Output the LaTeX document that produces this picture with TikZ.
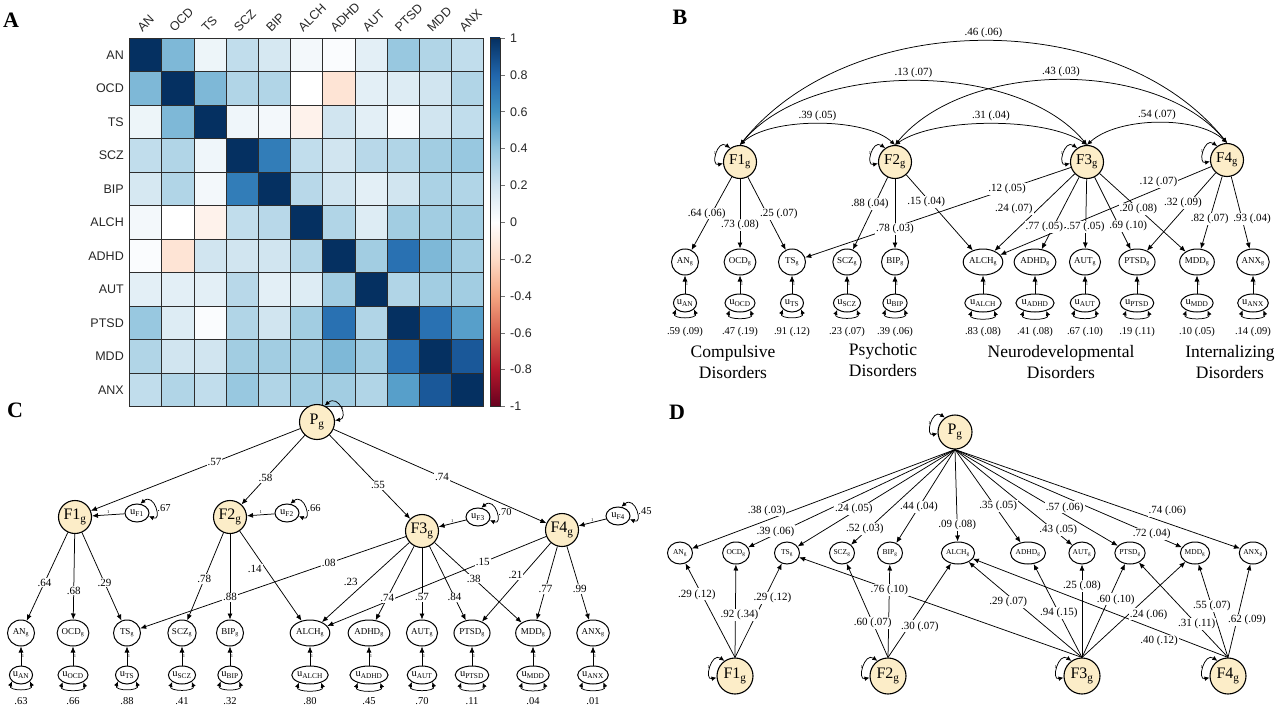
\documentclass[tikz,border=0pt]{standalone}
\usepackage{fontspec}
\setmainfont{Liberation Serif}
\newfontfamily\arialfont{Liberation Sans}
\usetikzlibrary{arrows.meta,shapes.geometric}

\definecolor{facfill}{RGB}{252,237,200}
\definecolor{gridcol}{RGB}{45,45,45}
\definecolor{pos0}{HTML}{FFFFFF}
\definecolor{pos1}{HTML}{D1E5F0}
\definecolor{pos2}{HTML}{92C5DE}
\definecolor{pos3}{HTML}{4393C3}
\definecolor{pos4}{HTML}{2166AC}
\definecolor{pos5}{HTML}{053061}
\definecolor{pos6}{HTML}{053061}
\definecolor{neg0}{HTML}{FFFFFF}
\definecolor{neg1}{HTML}{FDDBC7}
\definecolor{neg2}{HTML}{F4A582}
\definecolor{neg3}{HTML}{D6604D}
\definecolor{neg4}{HTML}{B2182B}
\definecolor{neg5}{HTML}{67001F}
\definecolor{neg6}{HTML}{67001F}

\pgfdeclareverticalshading{rdbu}{100bp}{color(0bp)=(neg5); color(25bp)=(neg5);
  color(30bp)=(neg4); color(35bp)=(neg3); color(40bp)=(neg2); color(45bp)=(neg1);
  color(50bp)=(pos0); color(55bp)=(pos1); color(60bp)=(pos2); color(65bp)=(pos3);
  color(70bp)=(pos4); color(75bp)=(pos5); color(100bp)=(pos5)}

\tikzset{
  fac/.style={circle, draw, line width=1.1pt, fill=facfill, minimum size=#1, inner sep=0pt},
  ind/.style={ellipse, draw, line width=1pt, minimum width=27, minimum height=26, inner sep=0pt, font=\fontsize{9}{9}\selectfont},
  indD/.style={ind, minimum width=25, minimum height=22, font=\fontsize{7.5}{8}\selectfont},
  res/.style={ellipse, draw, line width=1pt, minimum width=23, minimum height=18, inner sep=0pt, font=\fontsize{10.5}{10}\selectfont},
  lbl/.style={fill=white, inner sep=1pt, font=\fontsize{11}{12}\selectfont},
  arcl/.style={inner sep=1pt, font=\fontsize{11}{12}\selectfont},
  var/.style={inner sep=0pt, font=\fontsize{10.5}{12}\selectfont},
  one/.style={inner sep=0.5pt, font=\fontsize{4.5}{5}\selectfont},
  ld/.style={-{Latex[length=6pt,width=5pt]}, line width=0.75pt},
  cov/.style={{Latex[length=5pt,width=4.5pt]}-{Latex[length=5pt,width=4.5pt]}, line width=0.75pt},
  grp/.style={align=center, font=\fontsize{17.5}{21}\selectfont},
  panel/.style={font=\fontsize{22}{22}\selectfont\bfseries},
  hmlab/.style={inner sep=0pt, font=\arialfont\fontsize{12.5}{13}\selectfont, text=black!85},
}

% loadings: factor/indicator/label pos/x shift/y shift/label
\def\bload{1/AN/.5/-5/0/{.64 (.06)}, 1/OCD/.66/0/0/{.73 (.08)}, 1/TS/.5/12/0/{.25 (.07)},
  2/SCZ/.37/-5/0/{.88 (.04)}, 2/BIP/.72/0/0/{.78 (.03)}, 2/ALCH/.36/-4/0/{.15 (.04)},
  3/TS/.24/0/0/{.12 (.05)}, 3/ALCH/.46/-24/0/{.24 (.07)}, 3/ADHD/.69/-9/0/{.77 (.05)},
  3/AUT/.69/0/0/{.57 (.05)}, 3/PTSD/.68/9/0/{.69 (.10)}, 3/MDD/.45/0/0/{.20 (.08)},
  4/ALCH/.25/0/7/{.12 (.07)}, 4/PTSD/.39/-6/0/{.32 (.09)}, 4/MDD/.59/0/0/{.82 (.07)},
  4/ANX/.59/10/0/{.93 (.04)}}
\def\cload{1/AN/.57/0/0/.64, 1/OCD/.66/0/0/.68, 1/TS/.57/0/0/.29, 2/SCZ/.53/0/0/.78,
  2/BIP/.74/0/0/.88, 2/ALCH/.42/-11/0/.14, 3/TS/.29/0/0/.08, 3/ALCH/.5/-15/0/.23,
  3/ADHD/.7/0/0/.74, 3/AUT/.69/0/0/.57, 3/PTSD/.69/0/0/.84, 3/MDD/.45/0/0/.38,
  4/ALCH/.29/0/0/.15, 4/PTSD/.41/-7/0/.21, 4/MDD/.58/0/0/.77, 4/ANX/.58/0/0/.99}
\def\dpload{AN/.716/0/10/{.38 (.03)}, OCD/.868/0/3/{.39 (.06)}, TS/.643/0/3/{.24 (.05)},
  SCZ/.867/0/3/{.52 (.03)}, BIP/.615/0/0/{.44 (.04)}, ALCH/.82/0/0/{.09 (.08)},
  ADHD/.658/0/5/{.35 (.05)}, AUT/.88/0/4/{.43 (.05)}, PTSD/.674/0/7/{.57 (.06)},
  MDD/.867/0/0/{.72 (.04)}, ANX/.745/0/12/{.74 (.06)}}
\def\dfload{1/AN/.67/-5/0/{.29 (.12)}, 1/OCD/.46/4/0/{.92 (.34)}, 1/TS/.63/8/0/{.29 (.12)},
  2/SCZ/.37/0/0/{.60 (.07)}, 2/BIP/.73/0/0/{.76 (.10)}, 2/ALCH/.33/11/0/{.30 (.07)},
  3/ALCH/.58/-8/0/{.29 (.07)}, 3/ADHD/.48/0/0/{.94 (.15)}, 3/AUT/.77/0/0/{.25 (.08)},
  3/PTSD/.62/7/0/{.60 (.10)}, 3/MDD/.45/20/0/{.24 (.06)}, 4/ALCH/.27/0/-10/{.40 (.12)},
  4/PTSD/.35/0/0/{.31 (.11)}, 4/MDD/.55/0/0/{.55 (.07)}, 4/ANX/.4/10/0/{.62 (.09)}}

\begin{document}
\begin{tikzpicture}[x=1pt, y=-1pt]
\useasboundingbox (0,0) rectangle (1280,709);

% ---------- A: heatmap
\node[panel] (lA) at (11,20) {A};
\foreach \row [count=\ii from 0] in {
  {1,.45,.08,.25,.18,.05,.02,.12,.38,.30,.25},
  {.45,1,.45,.30,.30,0,-.15,.12,.15,.20,.30},
  {.08,.45,1,.07,.05,-.07,.20,.12,.02,.20,.25},
  {.25,.30,.07,1,.70,.25,.20,.28,.30,.35,.38},
  {.18,.30,.05,.70,1,.28,.20,.12,.20,.32,.30},
  {.05,0,-.07,.25,.28,1,.30,.15,.35,.35,.35},
  {.02,-.15,.20,.20,.20,.30,1,.35,.75,.45,.35},
  {.12,.12,.12,.28,.12,.15,.35,1,.30,.35,.35},
  {.38,.15,.02,.30,.20,.35,.75,.30,1,.75,.55},
  {.30,.20,.20,.35,.35,.35,.45,.35,.75,1,.85},
  {.25,.30,.25,.38,.30,.35,.35,.30,.55,.85,1}} {
  \foreach \vv [count=\jj from 0] in \row {
    \pgfmathsetmacro\av{abs(\vv)*5}
    \pgfmathtruncatemacro\sg{\av}
    \pgfmathtruncatemacro\nx{\sg+1}
    \pgfmathsetmacro\fr{(\av-\sg)*100}
    \ifdim\vv pt<0pt \def\pre{neg}\else\def\pre{pos}\fi
    \filldraw[fill=\pre\nx!\fr!\pre\sg, draw=gridcol, line width=0.8pt]
      (129.5+\jj*32.2, 38+\ii*33.5) rectangle ++(32.2,33.5);
  }
}
\foreach \nm [count=\ii from 0] in {AN,OCD,TS,SCZ,BIP,ALCH,ADHD,AUT,PTSD,MDD,ANX} {
  \node[hmlab, anchor=east] (row\nm) at (124, 54.75+\ii*33.5) {\nm};
  \node[hmlab, rotate=45, anchor=south west] (col\nm) at (142.5+\ii*32.2, 33) {\nm};
}
\shade[shading=rdbu] (490,38) rectangle (500,406.5);
\draw[gridcol, line width=0.6pt] (490,38) rectangle (500,406.5);
\foreach \tk [count=\ii from 0] in {1,0.8,0.6,0.4,0.2,0,-0.2,-0.4,-0.6,-0.8,-1} {
  \draw[black!55, line width=0.5pt] (501,38+\ii*36.85) -- ++(4,0);
  \node[hmlab, anchor=west] (tick\ii) at (510,38+\ii*36.85) {\tk};
}

% ---------- B: correlated factors
\node[panel] (lB) at (680,17) {B};
\foreach \ff/\xx/\yy in {1/740/162, 2/895/162, 3/1087/162, 4/1227/160} {
  \node[fac=33, font=\fontsize{15}{15}\selectfont] (bF\ff) at (\xx,\yy) {F\ff\textsubscript{g}};
  \draw[cov] (bF\ff.125) .. controls +(-13,-9) and +(-13,3) .. (bF\ff.185) node[one, pos=.5, left] {1};
}
\foreach \aa/\bb/\dx/\dy/\lb in {1/2/30/28/{.39 (.05)}, 2/3/40/28/{.31 (.04)}, 3/4/30/28/{.54 (.07)},
    1/3/70/85/{.13 (.07)}, 2/4/70/85/{.43 (.03)}, 1/4/110/137/{.46 (.06)}}
  \draw[cov] (bF\aa.north) .. controls +(\dx,-\dy) and +(-\dx,-\dy) .. (bF\bb.north)
    node[arcl, midway, above=2pt] (bc\aa\bb) {\lb};
\foreach \nm/\xx/\vv in {AN/685/{.59 (.09)}, OCD/740/{.47 (.19)}, TS/792/{.91 (.12)},
    SCZ/847/{.23 (.07)}, BIP/895/{.39 (.06)}, ALCH/983/{.83 (.08)}, ADHD/1035/{.41 (.08)},
    AUT/1085/{.67 (.10)}, PTSD/1137/{.19 (.11)}, MDD/1197/{.10 (.05)}, ANX/1253/{.14 (.09)}} {
  \node[ind] (b\nm) at (\xx,262) {\nm\textsubscript{g}};
  \node[res] (bu\nm) at (\xx,303) {u\textsubscript{\nm}};
  \node[var] (bv\nm) at (\xx,332) {\vv};
  \draw[ld] (bu\nm) -- (b\nm) node[one, midway, right] {1};
  \draw[cov] (bu\nm.-145) .. controls +(-4,10) and +(4,10) .. (bu\nm.-35);
}
\foreach \ff/\tg/\pp/\sx/\sy/\lb in \bload \draw[ld] (bF\ff) -- (b\tg);
\foreach \ff/\tg/\pp/\sx/\sy/\lb in \bload
  \path (bF\ff) -- (b\tg) node[lbl, pos=\pp, xshift=\sx, yshift=\sy] (bl\ff\tg) {\lb};
\node[grp] (gComp) at (733,362) {Compulsive\\Disorders};
\node[grp] (gPsy) at (883,360) {Psychotic\\Disorders};
\node[grp] (gNeu) at (1061,362) {Neurodevelopmental\\Disorders};
\node[grp] (gInt) at (1230,362) {Internalizing\\Disorders};

% ---------- C: higher-order factor
\node[panel] (lC) at (15,410) {C};
\node[fac=35, font=\fontsize{16}{16}\selectfont] (cPg) at (317,422) {P\textsubscript{g}};
\draw[cov] (cPg.65) .. controls +(14,-12) and +(14,-2) .. (cPg.5) node[one, pos=.5, right] {1};
\foreach \ff/\xx/\yy/\ux/\uy/\vv/\pp/\lb in {1/75/517/137/513/.67/.41/.57, 2/230/517/287/513/.66/.62/.58,
    3/422/531/478/517/.70/.6/.55, 4/562/530/618/516/.45/.51/.74} {
  \node[fac=33, font=\fontsize{16}{16}\selectfont] (cF\ff) at (\xx,\yy) {F\ff\textsubscript{g}};
  \node[res, minimum width=24] (cuF\ff) at (\ux,\uy) {u\textsubscript{F\ff}};
  \draw[ld] (cuF\ff) -- (cF\ff) node[one, midway, above] {1};
  \draw[cov] (cuF\ff.70) .. controls +(14,-12) and +(14,6) .. (cuF\ff.-15) node[var, pos=.5, right=2pt] {\vv};
  \draw[ld] (cPg) -- (cF\ff) node[lbl, pos=\pp] (cl\ff) {\lb};
}
\foreach \nm/\xx/\vv in {AN/21/.63, OCD/73/.66, TS/127/.88, SCZ/182/.41, BIP/230/.32, ALCH/310/.80,
    ADHD/369/.45, AUT/422/.70, PTSD/472/.11, MDD/533/.04, ANX/593/.01} {
  \node[ind] (c\nm) at (\xx,633) {\nm\textsubscript{g}};
  \node[res] (cu\nm) at (\xx,675) {u\textsubscript{\nm}};
  \node[var] (cv\nm) at (\xx,701) {\vv};
  \draw[ld] (cu\nm) -- (c\nm) node[one, midway, right] {1};
  \draw[cov] (cu\nm.-145) .. controls +(-4,10) and +(4,10) .. (cu\nm.-35);
}
\foreach \ff/\tg/\pp/\sx/\sy/\lb in \cload \draw[ld] (cF\ff) -- (c\tg);
\foreach \ff/\tg/\pp/\sx/\sy/\lb in \cload
  \path (cF\ff) -- (c\tg) node[lbl, pos=\pp, xshift=\sx, yshift=\sy] (cl\ff\tg) {\lb};

% ---------- D: bifactor
\node[panel] (lD) at (677,412) {D};
\node[fac=34, font=\fontsize{16}{16}\selectfont] (dPg) at (955,432) {P\textsubscript{g}};
\draw[cov] (dPg.125) .. controls +(-13,-9) and +(-13,3) .. (dPg.185) node[one, pos=.5, left] {1};
\foreach \ff/\xx in {1/735, 2/888, 3/1082, 4/1228} {
  \node[fac=36, font=\fontsize{16}{16}\selectfont] (dF\ff) at (\xx,676) {F\ff\textsubscript{g}};
  \draw[cov] (dF\ff.125) .. controls +(-13,-9) and +(-13,3) .. (dF\ff.185) node[one, pos=.5, left] {1};
}
\foreach \nm/\xx in {AN/680, OCD/736, TS/787, SCZ/842, BIP/890, ALCH/958, ADHD/1028,
    AUT/1082, PTSD/1130, MDD/1195, ANX/1253}
  \node[indD] (d\nm) at (\xx,553) {\nm\textsubscript{g}};
\foreach \tg/\pp/\sx/\sy/\lb in \dpload \draw[ld] (dPg.south) -- (d\tg);
\foreach \ff/\tg/\pp/\sx/\sy/\lb in \dfload \draw[ld] (dF\ff.north) -- (d\tg);
\draw[ld] (dF3.north) -- (dTS);
\foreach \tg/\pp/\sx/\sy/\lb in \dpload
  \path (dPg.south) -- (d\tg) node[lbl, pos=\pp, xshift=\sx, yshift=\sy] (dp\tg) {\lb};
\foreach \ff/\tg/\pp/\sx/\sy/\lb in \dfload
  \path (dF\ff.north) -- (d\tg) node[lbl, pos=\pp, xshift=\sx, yshift=\sy] (dl\ff\tg) {\lb};

\end{tikzpicture}
\end{document}
